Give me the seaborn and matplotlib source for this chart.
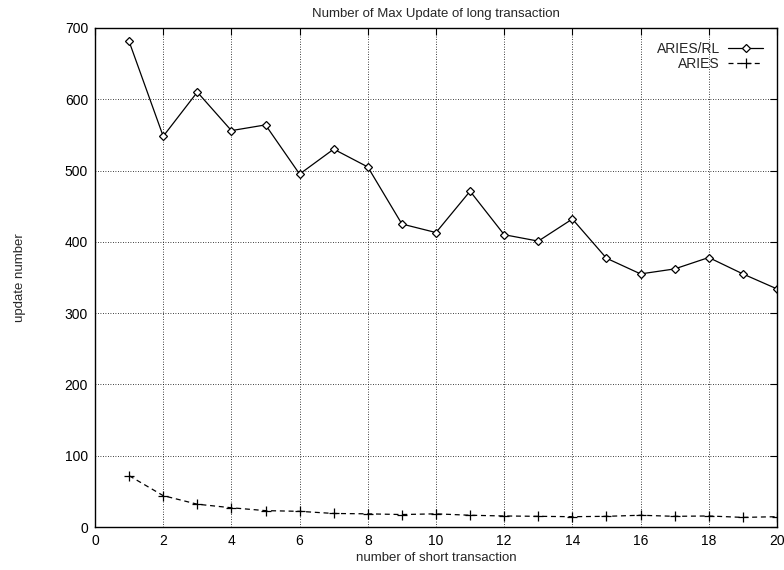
import matplotlib
matplotlib.use("Agg")
import matplotlib.pyplot as plt
import seaborn as sns
import pandas as pd
import numpy as np

# number of short transactions
short_tx = list(range(1, 21))
aries_rl = [681, 548, 610, 556, 564, 495, 530, 505, 425, 413,
            471, 410, 401, 432, 377, 355, 362, 378, 355, 334]
aries = [72, 44, 32, 27, 23, 22, 19, 18.5, 17.5, 18.5,
         16.5, 15.5, 15, 14.5, 15, 16.5, 15, 15.5, 13.5, 14.5]

df_rl = pd.DataFrame({"x": short_tx, "y": aries_rl})
df_a = pd.DataFrame({"x": short_tx, "y": aries})

sns.set_theme(style="white")
plt.rcParams["font.family"] = ["Liberation Sans", "DejaVu Sans"]

fig = plt.figure(figsize=(7.84, 5.70), dpi=100)
ax = fig.add_axes([0.1212, 0.0754, 0.8698, 0.8756])

sns.lineplot(data=df_rl, x="x", y="y", ax=ax, color="black", linewidth=0.9,
             marker="D", markersize=4.5, markerfacecolor="white",
             markeredgecolor="black", markeredgewidth=0.9, label="ARIES/RL")
sns.lineplot(data=df_a, x="x", y="y", ax=ax, color="black", linewidth=0.9,
             linestyle=(0, (4, 3)), marker="+", markersize=7,
             markeredgecolor="black", markeredgewidth=0.9, label="ARIES")

ax.set_xlim(0, 20)
ax.set_ylim(0, 700)
ax.set_xticks(np.arange(0, 21, 2))
ax.set_yticks(np.arange(0, 701, 100))
ax.grid(True, linestyle=(0, (1, 2)), color="black", linewidth=0.6)
ax.tick_params(direction="in", length=5, width=0.8, top=True, right=True,
               labelsize=10, colors="black", pad=5)
for s in ax.spines.values():
    s.set_color("black")
    s.set_linewidth(1.0)

ax.set_title("Number of Max Update of long transaction", fontsize=9.5, pad=8)
ax.set_xlabel("number of short transaction", fontsize=9.5, labelpad=3)
ax.set_ylabel("update number", fontsize=9.5, labelpad=28)

leg = ax.legend(loc="upper right", markerfirst=False, frameon=False,
                fontsize=10, handlelength=2.5, handletextpad=0.6,
                labelspacing=0.1, borderaxespad=0.6)

fig.savefig("out.png", dpi=100)
